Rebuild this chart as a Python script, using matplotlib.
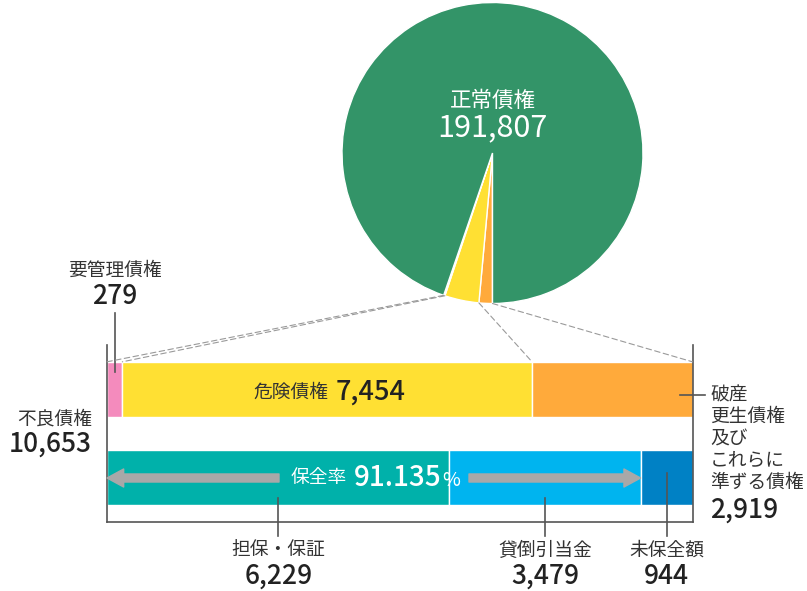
"""
不良債権の保全状況チャート
円グラフ（正常債権 vs 不良債権）と内訳の積み上げ帯
"""

import numpy as np
import matplotlib.pyplot as plt
from matplotlib.patches import ConnectionPatch
from matplotlib.transforms import blended_transform_factory

plt.rcParams['font.family'] = ['Noto Sans CJK JP', 'DejaVu Sans']

# データ
normal_label = "正常債権"
normal_value = 191807

npl_title = "不良債権"
npl_total = 10653  # 表示上の合計（内訳は端数処理の関係で合計と一致しない）
npl_labels = ["要管理債権", "危険債権", "破産更生債権及びこれらに準ずる債権"]
npl_values = [279, 7454, 2919]
npl_colors = ["#F48BBD", "#FFE033", "#FFAA3B"]

cover_labels = ["担保・保証", "貸倒引当金", "未保全額"]
cover_values = [6229, 3479, 944]
cover_colors = ["#00B1AA", "#00B4EF", "#0081C5"]

coverage_label = "保全率"
coverage_rate = "91.135"

GREEN = "#339468"
TXT = "#333333"
NUM = "#222222"
LINE = "#555555"
NUM_W = 'medium'

W, H = 807, 591
fig = plt.figure(figsize=(W / 100, H / 100), dpi=100)


def px_axes(x0, y0, x1, y1, **kw):
    """ピクセル座標(左上原点)で軸を作る"""
    return fig.add_axes([x0 / W, 1 - y1 / H, (x1 - x0) / W, (y1 - y0) / H], **kw)


bar_total = sum(npl_values)

# 1. 円グラフ
m = 1.02
cx, cy, r = 492.5, 153, 150.5
pie_ax = px_axes(cx - r * m, cy - r * m, cx + r * m, cy + r * m)
pie_vals = [npl_values[2], npl_values[1], npl_values[0], normal_value]
pie_cols = [npl_colors[2], npl_colors[1], npl_colors[0], GREEN]
pie_ax.pie(pie_vals, colors=pie_cols, startangle=-90, counterclock=False,
           radius=1, wedgeprops=dict(edgecolor='white', linewidth=1))
pie_ax.set_xlim(-m, m)
pie_ax.set_ylim(-m, m)
pie_ax.text(0, 0.35, normal_label, color='white', fontsize=15.5,
            ha='center', va='center')
pie_ax.text(0, 0.165, f"{normal_value:,}", color='white', fontsize=22,
            ha='center', va='center')

# 2. 積み上げ帯
bar_ax = px_axes(107, 345, 692.5, 522)
bar_ax.set_xlim(0, bar_total)
bar_ax.set_ylim(1.5, -0.5)
bh = 0.62
npl_left = np.concatenate([[0], np.cumsum(npl_values)[:-1]])
cov_left = np.concatenate([[0], np.cumsum(cover_values)[:-1]])
bar_ax.barh(0, npl_values, left=npl_left, height=bh, color=npl_colors,
            edgecolor='white', linewidth=1)
bar_ax.barh(1, cover_values, left=cov_left, height=bh, color=cover_colors,
            edgecolor='white', linewidth=1)
for s in ['left', 'right', 'bottom']:
    bar_ax.spines[s].set_color(LINE)
    bar_ax.spines[s].set_linewidth(1.2)
bar_ax.spines['top'].set_visible(False)
bar_ax.set_xticks([])
bar_ax.set_yticks([])
bar_ax.patch.set_alpha(0)

# 円グラフから帯への破線
cum = np.concatenate([[0], np.cumsum(pie_vals[:3])])
grand = sum(pie_vals)
for c in cum:
    th = np.deg2rad(-90 - c / grand * 360)
    con = ConnectionPatch(xyA=(np.cos(th), np.sin(th)), coordsA=pie_ax.transData,
                          xyB=(bar_total - c, -bh / 2), coordsB=bar_ax.transData,
                          color='#9a9a9a', linewidth=0.8, linestyle=(0, (5, 3)))
    fig.add_artist(con)

# 3. 文字・引出線
ov = fig.add_axes([0, 0, 1, 1])
ov.set_xlim(0, W)
ov.set_ylim(H, 0)
ov.axis('off')
bt = blended_transform_factory(bar_ax.transData, ov.transData)

# 要管理債権
pink_c = npl_values[0] / 2
ov.plot([pink_c, pink_c], [313, 372], color=LINE, lw=1.2, transform=bt)
ov.text(pink_c, 270, npl_labels[0], transform=bt, ha='center', va='center',
        fontsize=13.5, color=TXT)
ov.text(pink_c, 297, f"{npl_values[0]:,}", transform=bt, ha='center', va='center',
        fontsize=19, fontweight=NUM_W, color=NUM)

# 不良債権 合計
ov.text(92, 419, npl_title, ha='right', va='center', fontsize=13.5, color=TXT)
ov.text(92, 444, f"{npl_total:,}", ha='right', va='center', fontsize=19,
        fontweight=NUM_W, color=NUM)

# 危険債権
yel_c = npl_left[1] + npl_values[1] / 2
t1 = ov.annotate(npl_labels[1], xy=(yel_c, 392), xycoords=bt, xytext=(1, 0),
                 textcoords='offset points', ha='right', va='center',
                 fontsize=13.5, color=TXT)
ov.annotate(f"{npl_values[1]:,}", xy=(1, 0.5), xycoords=t1, xytext=(5, 0),
            textcoords='offset points', ha='left', va='center',
            fontsize=19.5, fontweight=NUM_W, color=NUM)

# 破産更生債権等
ov.plot([680, 705], [395, 395], color=LINE, lw=1.2)
for i, s in enumerate(["破産", "更生債権", "及び", "これらに", "準ずる債権"]):
    ov.text(710, 395 + i * 21.8, s, ha='left', va='center', fontsize=13.5, color=TXT)
ov.text(710, 510, f"{npl_values[2]:,}", ha='left', va='center', fontsize=19,
        fontweight=NUM_W, color=NUM)

# 保全率の矢印
arrow = dict(arrowstyle="simple,head_length=12,head_width=13,tail_width=5.8",
             color='#A8A8A8', shrinkA=0, shrinkB=0, mutation_scale=1)
ov.annotate("", xy=(0, 478), xycoords=bt, xytext=(279, 478), textcoords='data',
            arrowprops=arrow)
ov.annotate("", xy=(cover_values[0] + cover_values[1], 478), xycoords=bt,
            xytext=(469, 478), textcoords='data', arrowprops=arrow)
t2 = ov.text(347, 478, coverage_label, ha='right', va='center', fontsize=13.5,
             color='white')
t3 = ov.annotate(coverage_rate, xy=(1, 0.5), xycoords=t2, xytext=(5, 0),
                 textcoords='offset points', ha='left', va='center',
                 fontsize=20, fontweight=NUM_W, color='white')
ov.annotate("%", xy=(1, 0.42), xycoords=t3, xytext=(0.5, 0),
            textcoords='offset points', ha='left', va='center',
            fontsize=14, color='white')

# 下段の内訳ラベル
cov_c = cov_left + np.array(cover_values) / 2
starts = [498, 498, 473]
for x, y0, lab, v in zip(cov_c, starts, cover_labels, cover_values):
    ov.plot([x, x], [y0, 536], color=LINE, lw=1.2, transform=bt)
    ov.text(x, 550, lab, transform=bt, ha='center', va='center', fontsize=13.5,
            color=TXT)
    ov.text(x, 576, f"{v:,}", transform=bt, ha='center', va='center',
            fontsize=19, fontweight=NUM_W, color=NUM)

fig.savefig("out.png", dpi=100, facecolor='white')
